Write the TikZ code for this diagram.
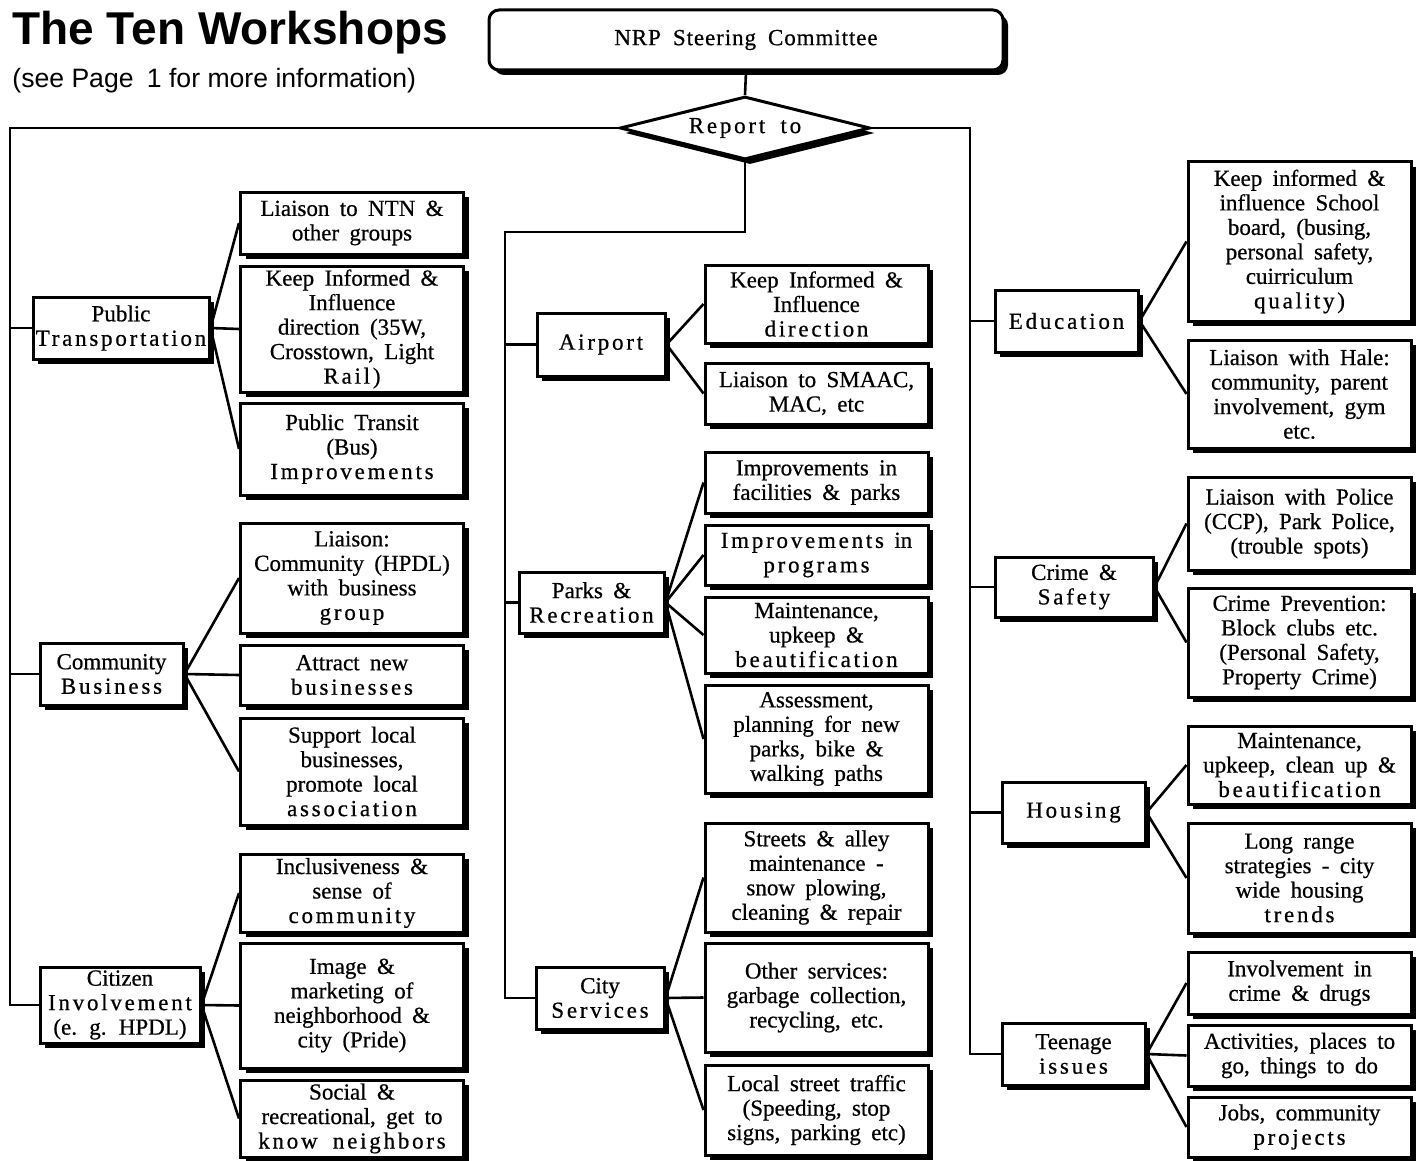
\documentclass[tikz,border=0pt]{standalone}
\usepackage{fontspec}
\setmainfont{Liberation Serif}[WordSpace=1.8, FakeBold=0.6]
\newfontfamily\headfont{Liberation Sans}
\usetikzlibrary{shapes.geometric,shadows}
\newcommand\wide[1]{{\addfontfeature{LetterSpace=12}#1}}
\tikzset{
  box/.style={draw, line width=1.5pt, fill=white, align=center, inner sep=1pt,
    font=\fontsize{11.5}{12.25}\selectfont,
    drop shadow={shadow xshift=2.5pt, shadow yshift=-2.5pt, fill=black, opacity=1}},
  sub/.style={box, minimum width=111.5pt},
  link/.style={line width=1.3pt},
}

\begin{document}
\begin{tikzpicture}[x=0.5pt, y=-0.5pt]
\useasboundingbox (0,0) rectangle (1419,1161);
% heading
\node[anchor=base west, inner sep=0, font=\headfont\bfseries\fontsize{23}{23}\selectfont] (title) at (12,45) {The Ten Workshops};
\node[anchor=base west, inner sep=0, font=\headfont\fontsize{13.3}{14}\selectfont] (note) at (12,88) {(see Page\enspace 1 for more information)};

% top of the tree
\node[box, rounded corners=5pt, minimum width=257pt, minimum height=30pt] (nrp) at (746,40) {\addfontfeature{LetterSpace=4}NRP Steering Committee};
\node[box, diamond, aspect=4, inner sep=0, minimum width=125pt, minimum height=31.5pt] (report) at (745,128) {\wide{Report to}};

% left column
\node[box, minimum width=88pt, minimum height=31pt] (pt) at (121,328) {Public\\ \wide{Transportation}};
\node[sub, minimum height=31pt] (pt1) at (352,223) {Liaison to NTN \&\\ other groups};
\node[sub, minimum height=63pt] (pt2) at (352,329) {Keep Informed \&\\ Influence\\ direction (35W,\\ Crosstown, Light\\ \wide{Rail)}};
\node[sub, minimum height=46pt] (pt3) at (352,449) {Public Transit\\ (Bus)\\ \wide{Improvements}};

\node[box, minimum width=71.5pt, minimum height=31pt] (cb) at (111.5,674) {Community\\ \wide{Business}};
\node[sub, minimum height=55pt] (cb1) at (352,578) {Liaison:\\ Community (HPDL)\\ with business\\ \wide{group}};
\node[sub, minimum height=30pt] (cb2) at (352,675) {Attract new\\ \wide{businesses}};
\node[sub, minimum height=53.5pt] (cb3) at (352,771.5) {Support local\\ businesses,\\ promote local\\ \wide{association}};

\node[box, minimum width=80pt, minimum height=38pt] (ci) at (120,1005) {Citizen\\ \wide{Involvement}\\ (e. g. HPDL)};
\node[sub, minimum height=39pt] (ci1) at (352,893) {Inclusiveness \&\\ sense of\\ \wide{community}};
\node[sub, minimum height=62.5pt] (ci2) at (352,1005.5) {Image \&\\ marketing of\\ neighborhood \&\\ city (Pride)};
\node[sub, minimum height=38.5pt] (ci3) at (352,1118.5) {Social \&\\ recreational, get to\\ \wide{know neighbors}};

% middle column
\node[box, minimum width=64pt, minimum height=31.5pt] (air) at (601,344.5) {\wide{Airport}};
\node[sub, minimum height=39pt] (air1) at (816.5,304) {Keep Informed \&\\ Influence\\ \wide{direction}};
\node[sub, minimum height=30.5pt] (air2) at (816.5,393.5) {Liaison to SMAAC,\\ MAC, etc};

\node[box, minimum width=72.5pt, minimum height=30.5pt] (park) at (591.5,602.5) {Parks \&\\ \wide{Recreation}};
\node[sub, minimum height=30.5pt] (park1) at (816.5,482.5) {Improvements in\\ facilities \& parks};
\node[sub, minimum height=30pt] (park2) at (816.5,555) {\wide{Improvements} in\\ \wide{programs}};
\node[sub, minimum height=38pt] (park3) at (816.5,635) {Maintenance,\\ upkeep \&\\ \wide{beautification}};
\node[sub, minimum height=54pt] (park4) at (816.5,739) {Assessment,\\ planning for new\\ parks, bike \&\\ walking paths};

\node[box, minimum width=64pt, minimum height=31pt] (city) at (600,998) {City\\ \wide{Services}};
\node[sub, minimum height=54.5pt] (city1) at (816.5,877.5) {Streets \& alley\\ maintenance -\\ snow plowing,\\ cleaning \& repair};
\node[sub, minimum height=54.5pt] (city2) at (816.5,997.5) {Other services:\\ garbage collection,\\ recycling, etc.};
\node[sub, minimum height=45pt] (city3) at (816.5,1110) {Local street traffic\\ (Speeding, stop\\ signs, parking etc)};

% right column
\node[box, minimum width=71.5pt, minimum height=31pt] (edu) at (1066.5,321) {\wide{Education}};
\node[sub, minimum height=79.5pt] (edu1) at (1299.5,241.5) {Keep informed \&\\ influence School\\ board, (busing,\\ personal safety,\\ cuirriculum\\ \wide{quality)}};
\node[sub, minimum height=54pt] (edu2) at (1299.5,394) {Liaison with Hale:\\ community, parent\\ involvement, gym\\ etc.};

\node[box, minimum width=79pt, minimum height=30pt] (crime) at (1074,587) {Crime \&\\ \wide{Safety}};
\node[sub, minimum height=46.5pt] (crime1) at (1299.5,523.5) {Liaison with Police\\ (CCP), Park Police,\\ (trouble spots)};
\node[sub, minimum height=54.5pt] (crime2) at (1299.5,642.5) {Crime Prevention:\\ Block clubs etc.\\ (Personal Safety,\\ Property Crime)};

\node[box, minimum width=71.5pt, minimum height=30.5pt] (house) at (1073.5,812.5) {\wide{Housing}};
\node[sub, minimum height=39pt] (house1) at (1299.5,765) {Maintenance,\\ upkeep, clean up \&\\ \wide{beautification}};
\node[sub, minimum height=55pt] (house2) at (1299.5,878) {Long range\\ strategies - city\\ wide housing\\ \wide{trends}};

\node[box, minimum width=71.5pt, minimum height=31pt] (teen) at (1073.5,1054) {Teenage\\ \wide{issues}};
\node[sub, minimum height=31pt] (teen1) at (1299.5,983) {Involvement in\\ crime \& drugs};
\node[sub, minimum height=30.5pt] (teen2) at (1299.5,1055.5) {Activities, places to\\ go, things to do};
\node[sub, minimum height=30pt] (teen3) at (1299.5,1127) {Jobs, community\\ \wide{projects}};

% trunks
\coordinate (lt) at (10,128);
\coordinate (mt) at (505,232);
\coordinate (rt) at (970,128);
\draw[link] (nrp.south) -- (report.north);
\draw[link] (report.west) -- (lt) |- (ci.west);
\draw[link] (lt |- pt.west) -- (pt.west);
\draw[link] (lt |- cb.west) -- (cb.west);
\draw[link] (report.south) |- (mt) |- (city.west);
\draw[link] (mt |- air.west) -- (air.west);
\draw[link] (mt |- park.west) -- (park.west);
\draw[link] (report.east) -- (rt) |- (teen.west);
\draw[link] (rt |- edu.west) -- (edu.west);
\draw[link] (rt |- crime.west) -- (crime.west);
\draw[link] (rt |- house.west) -- (house.west);

% branches
\foreach \c in {pt1,pt2,pt3} \draw[link] (pt.east) -- (\c.west);
\foreach \c in {cb1,cb2,cb3} \draw[link] (cb.east) -- (\c.west);
\foreach \c in {ci1,ci2,ci3} \draw[link] (ci.east) -- (\c.west);
\foreach \c in {air1,air2} \draw[link] (air.east) -- (\c.west);
\foreach \c in {park1,park2,park3,park4} \draw[link] (park.east) -- (\c.west);
\foreach \c in {city1,city2,city3} \draw[link] (city.east) -- (\c.west);
\foreach \c in {edu1,edu2} \draw[link] (edu.east) -- (\c.west);
\foreach \c in {crime1,crime2} \draw[link] (crime.east) -- (\c.west);
\foreach \c in {house1,house2} \draw[link] (house.east) -- (\c.west);
\foreach \c in {teen1,teen2,teen3} \draw[link] (teen.east) -- (\c.west);
\end{tikzpicture}
\end{document}
